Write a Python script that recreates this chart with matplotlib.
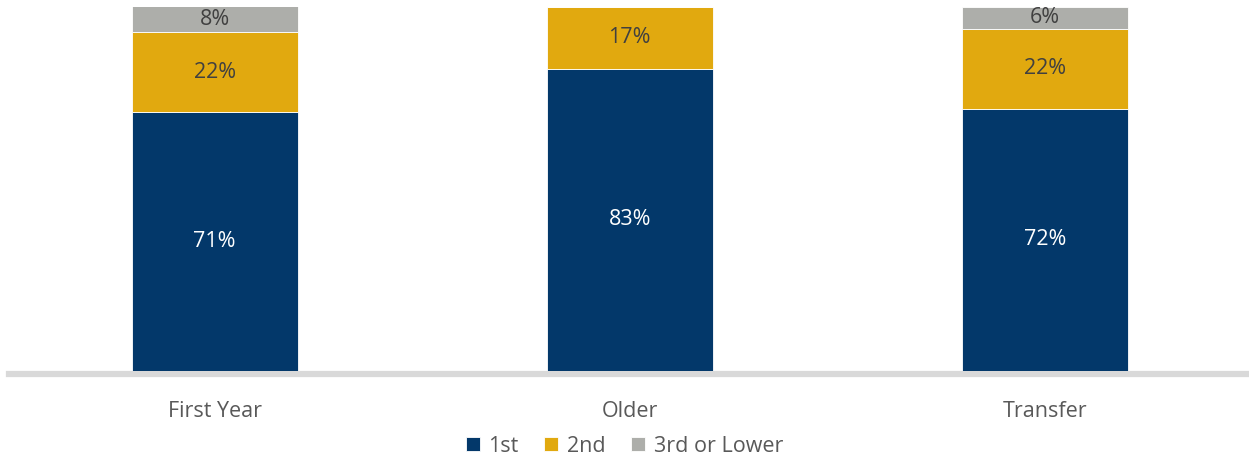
import matplotlib.pyplot as plt
import numpy as np

# Data
groups = ["First Year", "Older", "Transfer"]
first = [71, 83, 72]
second = [22, 17, 22]
third = [8, 0, 6]
series_names = ["1st", "2nd", "3rd or Lower"]
colors = ["#03386A", "#E1A90F", "#ADAEAA"]

plt.rcParams["font.family"] = ["Open Sans", "DejaVu Sans"]

fig = plt.figure(figsize=(12.49, 4.59), dpi=100)
ax = fig.add_axes([0.007, 0.192, 0.993, 0.793])

# spine setup first (set_position resets tick styling)
for s in ["top", "right", "left"]:
    ax.spines[s].set_visible(False)
ax.spines["bottom"].set_position(("outward", 2.5))
ax.spines["bottom"].set_color("#D9D9D9")
ax.spines["bottom"].set_linewidth(4.5)
ax.spines["bottom"].set_zorder(1)

x = np.arange(len(groups))
w = 0.4
bottoms = np.zeros(len(groups))
label_colors = ["white", "#404040", "#404040"]
for vals, name, col, lc in zip([first, second, third], series_names, colors, label_colors):
    vals = np.array(vals, dtype=float)
    ax.bar(x, vals, w, bottom=bottoms, color=col, label=name, zorder=2,
           edgecolor="white", linewidth=0.6)
    for xi, b, v in zip(x, bottoms, vals):
        if v > 0:
            top = min(b + v, 100)
            ax.text(xi, (b + top) / 2, f"{int(v)}%", ha="center", va="center",
                    color=lc, fontsize=15.5, zorder=3)
    bottoms += vals

ax.set_xlim(-0.496, 2.492)
ax.set_ylim(0, 100)
ax.set_yticks([])
ax.set_xticks(x)
ax.set_xticklabels(groups, fontsize=15.5, color="#595959")
ax.tick_params(axis="x", length=0, pad=19)

handles, labels = ax.get_legend_handles_labels()
fig.legend(handles, labels, loc="lower center", bbox_to_anchor=(0.5, -0.037), ncol=3,
           frameon=False, fontsize=15.5, handlelength=0.65, handleheight=0.65,
           handletextpad=0.4, columnspacing=1.2, labelcolor="#595959")

plt.savefig("out.png", dpi=100)
